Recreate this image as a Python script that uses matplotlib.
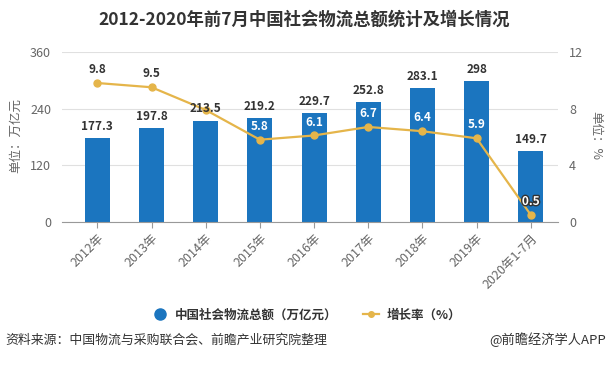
import numpy as np
import matplotlib
matplotlib.use('Agg')
import matplotlib.pyplot as plt
import matplotlib.patheffects as pe
from matplotlib.lines import Line2D

plt.rcParams['font.family'] = ['Noto Sans CJK SC', 'DejaVu Sans']

#data
years = ['2012年', '2013年', '2014年', '2015年', '2016年', '2017年', '2018年', '2019年', '2020年1-7月']
total = [177.3, 197.8, 213.5, 219.2, 229.7, 252.8, 283.1, 298, 149.7]
growth = [9.8, 9.5, 7.9, 5.8, 6.1, 6.7, 6.4, 5.9, 0.5]
growth_labels = ['9.8', '9.5', '', '5.8', '6.1', '6.7', '6.4', '5.9', '0.5']

bar_color = '#1b75bf'
line_color = '#e5b54a'
grey = '#666666'

fig = plt.figure(figsize=(6.09, 3.65), dpi=100)
ax = fig.add_axes([0.102, 0.392, 0.814, 0.466])
ax2 = ax.twinx()

x = np.arange(len(years))
ax.bar(x, total, width=0.46, color=bar_color, zorder=2)
ax.set_ylim(0, 360)
ax.set_yticks([0, 120, 240, 360])
ax.set_xlim(-0.65, 8.5)
ax.set_xticks(x)
ax.set_xticklabels(years, rotation=45, ha='right', rotation_mode='anchor', fontsize=9, color=grey)
ax.tick_params(axis='y', length=0, labelsize=9, labelcolor=grey, pad=8)
ax.tick_params(axis='x', length=4, color='#999999', pad=3)
ax.grid(axis='y', color='#e0e0e0', linewidth=0.8, zorder=0)
for s in ['top', 'left', 'right']:
    ax.spines[s].set_visible(False)
ax.spines['bottom'].set_color('#999999')

ax2.plot(x, growth, color=line_color, linewidth=1.6, marker='o', markersize=5, zorder=3)
ax2.set_ylim(0, 12)
ax2.set_yticks([0, 4, 8, 12])
ax2.tick_params(axis='y', length=0, labelsize=9, labelcolor=grey, pad=8)
for s in ['top', 'left', 'right', 'bottom']:
    ax2.spines[s].set_visible(False)

#bar labels on top of the line
for i, v in enumerate(total):
    ax2.annotate('%g' % v, (x[i], v / 30.0), xytext=(0, 4), textcoords='offset points',
                 ha='center', va='bottom', fontsize=8.5, fontweight='bold', color='#333333', zorder=5)

#growth labels
for i, v in enumerate(growth):
    if growth_labels[i] == '':
        continue
    if i < 2:
        ax2.annotate(growth_labels[i], (x[i], v), xytext=(0, 5), textcoords='offset points',
                     ha='center', va='bottom', fontsize=8.5, fontweight='bold', color='#333333', zorder=5)
    elif i == 8:
        ax2.annotate(growth_labels[i], (x[i], v), xytext=(0, 5), textcoords='offset points',
                     ha='center', va='bottom', fontsize=8.5, fontweight='bold', color='white', zorder=5,
                     path_effects=[pe.withStroke(linewidth=2, foreground='#333333')])
    else:
        ax2.annotate(growth_labels[i], (x[i], v), xytext=(0, 5), textcoords='offset points',
                     ha='center', va='bottom', fontsize=8.5, fontweight='bold', color='white', zorder=5)

fig.text(0.5, 0.945, '2012-2020年前7月中国社会物流总额统计及增长情况', ha='center', va='center',
         fontsize=12.5, fontweight='bold', color='#333333')
fig.text(0.026, 0.63, '单位：万亿元', rotation=90, ha='center', va='center', fontsize=9, color=grey)
fig.text(0.978, 0.63, '单位：%', rotation=270, ha='center', va='center', fontsize=9, color=grey)

handles = [Line2D([], [], linestyle='none', marker='o', markersize=8, color=bar_color),
           Line2D([], [], color=line_color, linewidth=1.6, marker='o', markersize=4)]
fig.legend(handles, ['中国社会物流总额（万亿元）', '增长率（%）'], loc='center', bbox_to_anchor=(0.503, 0.137),
           ncol=2, frameon=False, prop={'size': 9, 'weight': 'bold'}, handlelength=1.3,
           handletextpad=0.6, columnspacing=2.0, labelcolor='#333333')

fig.text(0.008, 0.068, '资料来源：中国物流与采购联合会、前瞻产业研究院整理', ha='left', va='center',
         fontsize=9.3, color='#333333')
fig.text(0.995, 0.068, '@前瞻经济学人APP', ha='right', va='center', fontsize=9.5, color='#333333')

fig.savefig('out.png', dpi=100)
